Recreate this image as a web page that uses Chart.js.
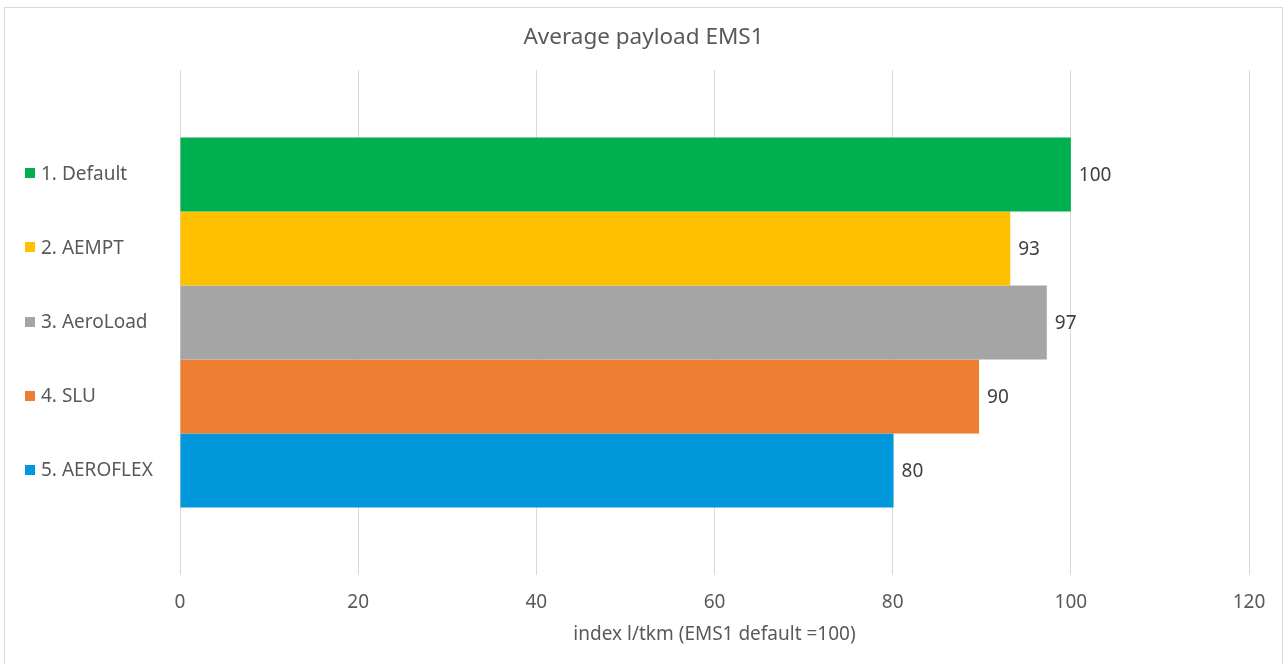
<!DOCTYPE html>
<html lang="en">
<head>
    <meta charset="UTF-8">
    <title>Average payload EMS1</title>
    <style>
        * { margin: 0; padding: 0; box-sizing: border-box; }
        body { background: #fff; width: 1287px; height: 664px; overflow: hidden; }
        #wrap { position: relative; width: 1287px; height: 664px; }
    </style>
</head>
<body>
    <div id="wrap"><canvas id="chart"></canvas></div>

    <script src="https://cdn.jsdelivr.net/npm/chart.js"></script>
    <script>
        // Scenario names, values (index, default = 100) and bar colours
        const scenarios = ['1. Default', '2. AEMPT', '3. AeroLoad', '4. SLU', '5. AEROFLEX'];
        const payloadIndex = [100, 93.2, 97.3, 89.7, 80.1];
        const barColors = ['#00b050', '#ffc000', '#a5a5a5', '#ed7d31', '#0098db'];
        const xTicks = [0, 20, 40, 60, 80, 100, 120];

        const FONT = "'Noto Sans', sans-serif";
        const TEXT = '#595959';

        // White background and thin grey frame round the whole chart
        const frame = {
            id: 'frame',
            beforeDraw(chart) {
                const ctx = chart.ctx;
                ctx.save();
                ctx.fillStyle = '#fff';
                ctx.fillRect(0, 0, chart.width, chart.height);
                ctx.strokeStyle = '#d9d9d9';
                ctx.lineWidth = 1;
                ctx.strokeRect(4.5, 7.5, 1278, 660);
                ctx.restore();
            }
        };

        // Value labels at the end of each bar, and legend entries beside each bar
        const labels = {
            id: 'labels',
            afterDatasetsDraw(chart) {
                const ctx = chart.ctx;
                ctx.save();
                ctx.textBaseline = 'middle';
                ctx.font = '19px ' + FONT;
                chart.data.datasets.forEach((ds, i) => {
                    const bar = chart.getDatasetMeta(i).data[0];
                    ctx.fillStyle = '#404040';
                    ctx.textAlign = 'left';
                    ctx.fillText(Math.round(ds.data[0]).toString(), bar.x + 8, bar.y + 1);

                    ctx.fillStyle = ds.backgroundColor;
                    ctx.fillRect(25, Math.round(bar.y) - 6, 10, 10);
                    ctx.fillStyle = TEXT;
                    ctx.fillText(ds.label, 41, bar.y);
                });
                ctx.restore();
            }
        };

        const datasets = scenarios.map((name, i) => ({
            label: name,
            data: [payloadIndex[i]],
            backgroundColor: barColors[i],
            borderWidth: 0,
            barPercentage: 1,
            categoryPercentage: 0.733
        }));

        new Chart(document.getElementById('chart'), {
            type: 'bar',
            data: { labels: [''], datasets: datasets },
            options: {
                indexAxis: 'y',
                responsive: true,
                maintainAspectRatio: false,
                animation: false,
                layout: { padding: { left: 4, right: 4, top: 8, bottom: 0 } },
                plugins: {
                    legend: { display: false },
                    tooltip: { enabled: false },
                    title: {
                        display: true,
                        text: 'Average payload EMS1',
                        color: TEXT,
                        font: { family: FONT, size: 22.5, weight: 'normal' },
                        padding: { top: 16, bottom: 19 }
                    }
                },
                scales: {
                    x: {
                        min: 0,
                        max: 120,
                        afterBuildTicks(scale) {
                            scale.ticks = xTicks.map(v => ({ value: v }));
                        },
                        afterFit(scale) { scale.height = 89; },
                        grid: { color: '#d9d9d9', drawTicks: false },
                        border: { display: false },
                        ticks: {
                            color: TEXT,
                            padding: 16,
                            font: { family: FONT, size: 19 }
                        },
                        title: {
                            display: true,
                            text: 'index l/tkm (EMS1 default =100)',
                            color: TEXT,
                            font: { family: FONT, size: 19 },
                            padding: { top: 0, bottom: 18 }
                        }
                    },
                    y: {
                        afterFit(scale) { scale.width = 176; },
                        grid: { display: false },
                        border: { display: false },
                        ticks: { display: false }
                    },
                    y2: {
                        position: 'right',
                        afterFit(scale) { scale.width = 34; },
                        grid: { display: false },
                        border: { display: false },
                        ticks: { display: false }
                    }
                }
            },
            plugins: [frame, labels]
        });
    </script>
</body>
</html>
